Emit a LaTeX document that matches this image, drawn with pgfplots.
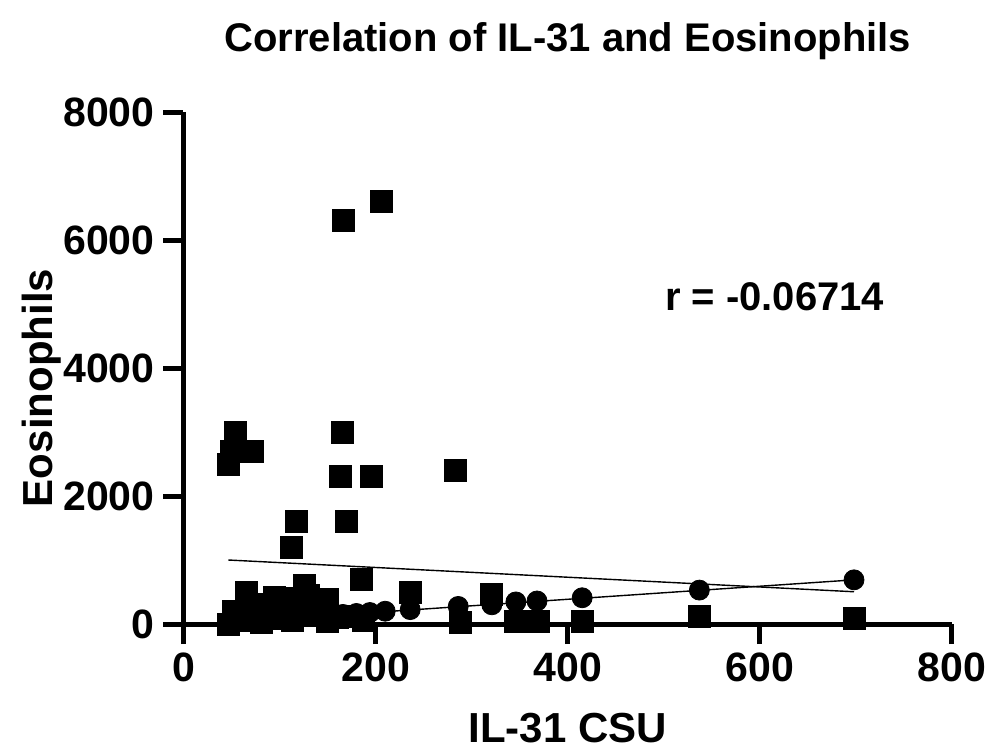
\documentclass[border=0pt]{standalone}
\usepackage{pgfplots}
\pgfplotsset{compat=1.18}
\usepackage{fontspec}
\setmainfont{Liberation Sans}
\begin{document}
\begin{tikzpicture}[x=1pt,y=1pt]
\begin{axis}[
  at={(0,0)}, anchor=south west,
  scale only axis,
  width=384.25pt, height=256pt,
  xmin=0, xmax=800, ymin=0, ymax=8000,
  axis lines=left,
  axis line style={line width=2.5pt, -},
  xtick={0,200,400,600,800},
  ytick={0,2000,4000,6000,8000},
  tick align=outside,
  major tick length=10pt,
  tick style={line width=2.5pt, black},
  /pgf/number format/assume math mode=true,
  /pgf/number format/1000 sep={},
  ticklabel style={font=\fontsize{20.5}{20.5}\selectfont\bfseries},
  yticklabel style={xshift=-1pt},
  xticklabel style={yshift=-1pt},
  clip=false,
]
\addplot[only marks, mark=square*, mark size=5.5pt, black] coordinates {
(206,6600) (166,6300) (54,3000) (165,3000) (50,2700) (72,2700) (47,2500)
(163,2300) (196,2300) (283,2400) (118,1600) (170,1600) (112,1200) (185,700)
(236,500) (321,470) (126,600) (66,495) (95,420) (150,390) (52,200) (47,0)
(130,450) (110,400) (81,20) (113,60) (150,40) (187,60) (100,150) (60,100)
(140,200) (75,250) (90,300) (85,300) (105,350) (120,250) (135,150) (70,50)
(95,80) (160,100) (175,120) (288,20) (346,40) (369,40) (415,45) (537,125) (698,90)
};
\addplot[only marks, mark=*, mark size=5pt, black] coordinates {
(166,150) (180,165) (194,180) (210,200) (236,225) (286,275) (321,300)
(346,345) (368,360) (415,410) (537,530) (698,690)
};
\addplot[black, line width=0.7pt] coordinates {(46.6,1000) (698,504)};
\addplot[black, line width=0.7pt] coordinates {(166,148) (698,690)};
\node[anchor=west, font=\fontsize{20}{20}\selectfont\bfseries] at (axis cs:494,5110) {r = -0.06714};
\end{axis}
\node[font=\fontsize{20}{20}\selectfont\bfseries] at (192.1,291.5) {Correlation of IL-31 and Eosinophils};
\node[font=\fontsize{21}{21}\selectfont\bfseries] at (192.1,-52) {IL-31 CSU};
\node[font=\fontsize{21}{21}\selectfont\bfseries, rotate=90] at (-71,118) {Eosinophils};
\pgfresetboundingbox
\path (-91.75,-63.5) rectangle (405.25,312);
\end{tikzpicture}
\end{document}
